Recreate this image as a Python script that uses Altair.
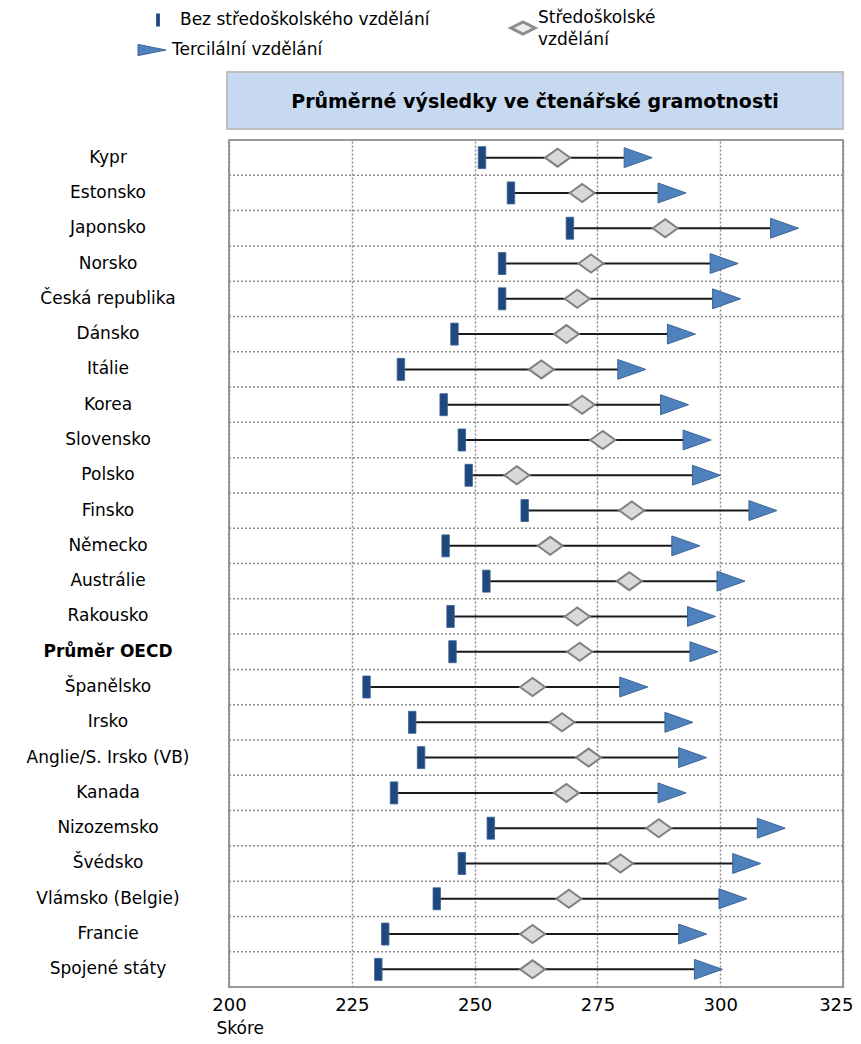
import altair as alt
import pandas as pd

countries = ["Kypr", "Estonsko", "Japonsko", "Norsko", "Česká republika", "Dánsko",
             "Itálie", "Korea", "Slovensko", "Polsko", "Finsko", "Německo",
             "Austrálie", "Rakousko", "Průměr OECD", "Španělsko", "Irsko",
             "Anglie/S. Irsko (VB)", "Kanada", "Nizozemsko", "Švédsko",
             "Vlámsko (Belgie)", "Francie", "Spojené státy"]
below_secondary = [251.5, 257.4, 269.4, 255.6, 255.6, 245.9, 235.0, 243.7, 247.4, 248.8,
                   260.2, 244.1, 252.4, 245.1, 245.5, 228.0, 237.3, 239.1, 233.6, 253.3,
                   247.4, 242.3, 231.8, 230.4]
upper_secondary = [266.9, 271.9, 288.8, 273.7, 270.9, 268.7, 263.6, 271.9, 276.1, 258.6,
                   282.0, 265.4, 281.5, 270.9, 271.4, 261.8, 267.8, 273.2, 268.7, 287.5,
                   279.7, 269.2, 261.8, 261.8]
tertiary = [283.3, 290.2, 313.1, 300.8, 301.3, 292.1, 282.0, 290.7, 295.3, 297.2,
            308.7, 293.0, 302.2, 296.2, 296.7, 282.4, 291.6, 294.4, 290.2, 310.4,
            305.4, 302.6, 294.4, 297.6]
x_ticks = [200, 225, 250, 275, 300, 325]
highlight = "Průměr OECD"

title_text = "Průměrné výsledky ve čtenářské gramotnosti"
legend_low = "Bez středoškolského vzdělání"
legend_mid = ["Středoškolské", "vzdělání"]
legend_high = "Tercilální vzdělání"

FONT = "DejaVu Sans"
W, H = 614, 847

df = pd.DataFrame({
    "idx": list(range(len(countries))),
    "country": countries,
    "low": below_secondary,
    "mid": upper_secondary,
    "high": tertiary,
})
bounds = pd.DataFrame({"b": [i + 0.5 for i in range(len(countries) - 1)]})
one = pd.DataFrame({"a": [0]})

x_scale = alt.Scale(domain=[200, 325], nice=False, zero=False)
y_scale = alt.Scale(domain=[-0.5, len(countries) - 0.5], reverse=True, nice=False, zero=False)

x_axis = alt.Axis(values=x_ticks, labelFont=FONT, labelFontSize=18, labelColor="black",
                  labelPadding=9, ticks=False, domain=False, grid=True, labelOverlap=False,
                  gridDash=[2, 2], gridColor="#8c8c8c", gridWidth=1.5,
                  labelAlign=alt.condition("datum.value == 325", alt.value("right"), alt.value("center")),
                  labelOffset=alt.condition("datum.value == 325", alt.value(10), alt.value(0)),
                  title="Skóre", titleFont=FONT, titleFontSize=17, titleFontWeight="normal",
                  titleColor="black", titleX=-13, titleY=46, titleAlign="left",
                  titleBaseline="alphabetic", labelFlush=False)

hgrid = alt.Chart(bounds).mark_rule(color="#8c8c8c", strokeWidth=1.5, strokeDash=[2, 2]).encode(
    y=alt.Y("b:Q", scale=y_scale, axis=None),
    x=alt.value(0), x2=alt.value(W),
)

base = alt.Chart(df)
rng = base.mark_rule(color="#1a1a1a", strokeWidth=2).encode(
    x=alt.X("low:Q", scale=x_scale, axis=x_axis),
    x2="high:Q",
    y=alt.Y("idx:Q", scale=y_scale, axis=None),
)
bar_path = "M-0.34,-1L0.34,-1L0.34,1L-0.34,1Z"
diam_path = "M-1,0L0,-0.72L1,0L0,0.72Z"
tri_path = "M-1,-0.71L1,0L-1,0.71Z"

p_low = base.mark_point(shape=bar_path, size=484, filled=True, fill="#1F497D",
                        stroke="#3a6296", strokeWidth=0.8, opacity=1).encode(
    x=alt.X("low:Q", scale=x_scale), y=alt.Y("idx:Q", scale=y_scale))
p_mid = base.mark_point(shape=diam_path, size=625, filled=True, fill="#D9D9D9",
                        stroke="#808080", strokeWidth=2, opacity=1).encode(
    x=alt.X("mid:Q", scale=x_scale), y=alt.Y("idx:Q", scale=y_scale))
p_high = base.mark_point(shape=tri_path, size=784, filled=True, fill="#4F81BD",
                         stroke="#3B6597", strokeWidth=1, opacity=1).encode(
    x=alt.X("high:Q", scale=x_scale), y=alt.Y("idx:Q", scale=y_scale))

# category labels (left of the plot), drawn through the y scale
lbl_norm = base.transform_filter(alt.datum.country != highlight).mark_text(
    font=FONT, fontSize=17, color="black", align="center", baseline="middle").encode(
    x=alt.value(-121), y=alt.Y("idx:Q", scale=y_scale), text="country:N")
lbl_bold = base.transform_filter(alt.datum.country == highlight).mark_text(
    font=FONT, fontSize=17, fontWeight="bold", color="black", align="center",
    baseline="middle").encode(
    x=alt.value(-121), y=alt.Y("idx:Q", scale=y_scale), text="country:N")

deco = alt.Chart(one)
title_box = deco.mark_rect(fill="#C6D9F0", stroke="#bfbfbf", strokeWidth=2).encode(
    x=alt.value(-2), x2=alt.value(W), y=alt.value(-68), y2=alt.value(-11))
title_lbl = deco.mark_text(font=FONT, fontSize=19, fontWeight="bold", color="black",
                           align="center", baseline="middle").encode(
    x=alt.value(306), y=alt.value(-38), text=alt.value(title_text))

leg_low_m = deco.mark_point(shape="M-0.29,-1L0.29,-1L0.29,1L-0.29,1Z", size=169, filled=True,
                            fill="#1F497D", opacity=1).encode(x=alt.value(-71), y=alt.value(-120))
leg_low_t = deco.mark_text(font=FONT, fontSize=17, color="black", align="left",
                           baseline="middle").encode(x=alt.value(-49), y=alt.value(-120),
                                                     text=alt.value(legend_low))
leg_high_m = deco.mark_point(shape="M-1,-0.4L1,0L-1,0.4Z", size=784, filled=True,
                             fill="#4F81BD", stroke="#3B6597", strokeWidth=1, opacity=1).encode(
    x=alt.value(-77), y=alt.value(-90))
leg_high_t = deco.mark_text(font=FONT, fontSize=17, color="black", align="left",
                            baseline="middle").encode(x=alt.value(-57), y=alt.value(-90),
                                                      text=alt.value(legend_high))
leg_mid_m = deco.mark_point(shape="M-1,0L0,-0.5L1,0L0,0.5Z", size=576, filled=True,
                            fill="#eeeeee", stroke="#8c8c8c", strokeWidth=3, opacity=1).encode(
    x=alt.value(294), y=alt.value(-112))
leg_mid_t1 = deco.mark_text(font=FONT, fontSize=17, color="black", align="left",
                            baseline="middle").encode(x=alt.value(309), y=alt.value(-122),
                                                      text=alt.value(legend_mid[0]))
leg_mid_t2 = deco.mark_text(font=FONT, fontSize=17, color="black", align="left",
                            baseline="middle").encode(x=alt.value(309), y=alt.value(-100),
                                                      text=alt.value(legend_mid[1]))

chart = alt.layer(
    hgrid, rng, p_low, p_mid, p_high, lbl_norm, lbl_bold,
    title_box, title_lbl,
    leg_low_m, leg_low_t, leg_high_m, leg_high_t, leg_mid_m, leg_mid_t1, leg_mid_t2,
).properties(
    width=W, height=H,
    autosize=alt.AutoSizeParams(type="none"),
    padding={"left": 221, "top": 132, "right": 10, "bottom": 49},
).configure_view(stroke="#9a9a9a", strokeWidth=2)

chart.save("out.html", embed_options={"renderer": "svg", "actions": False})
